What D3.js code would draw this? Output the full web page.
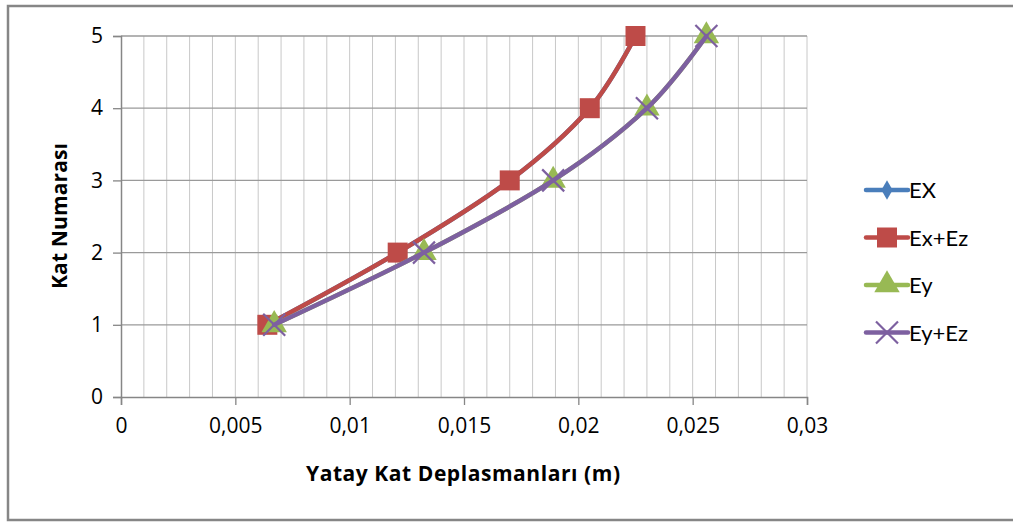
<!DOCTYPE html>
<html>
<head>
<meta charset="utf-8">
<script src="https://cdn.jsdelivr.net/npm/d3@7"></script>
<style>
  body { margin: 0; background: #fff; }
  text { font-family: "Open Sans", sans-serif; }
</style>
</head>
<body>
<script>
const width = 1013;
const height = 523;

// floors and displacements
const floors = [1, 2, 3, 4, 5];
const exValues = [0.0064, 0.0121, 0.0170, 0.0205, 0.0225];
const exEzValues = [0.0064, 0.0121, 0.0170, 0.0205, 0.0225];
const eyValues = [0.0067, 0.01325, 0.0189, 0.0230, 0.0256];
const eyEzValues = [0.0067, 0.01325, 0.0189, 0.0230, 0.0256];
const xTicks = [0, 0.005, 0.01, 0.015, 0.02, 0.025, 0.03];
const yTicks = [0, 1, 2, 3, 4, 5];

const series = [
    {name: "EX", values: exValues, color: "#4A7EBB", symbol: d3.symbolDiamond, size: 110},
    {name: "Ex+Ez", values: exEzValues, color: "#BE4B48", symbol: d3.symbolSquare, size: 400},
    {name: "Ey", values: eyValues, color: "#98B954", symbol: d3.symbolTriangle, size: 280},
    {name: "Ey+Ez", values: eyEzValues, color: "#7D60A0", symbol: "cross", size: 11}
];

const plot = {left: 121, right: 807, top: 36, bottom: 397};

const x = d3.scaleLinear().domain([0, 0.03]).range([plot.left, plot.right]);
const y = d3.scaleLinear().domain([0, 5]).range([plot.bottom, plot.top]);

const svg = d3.select('body').append('svg')
    .attr('width', width)
    .attr('height', height);

// outer frame
svg.append('rect')
    .attr('x', 8).attr('y', 6)
    .attr('width', 1010).attr('height', 514)
    .attr('fill', 'white')
    .attr('stroke', '#868686')
    .attr('stroke-width', 2.5);

// vertical minor grid every 0.001
const minor = d3.range(1, 31).map(i => i / 1000);
svg.append('g').selectAll('line')
    .data(minor)
    .enter().append('line')
    .attr('x1', d => x(d)).attr('x2', d => x(d))
    .attr('y1', plot.top).attr('y2', plot.bottom)
    .attr('stroke', '#c8c8c8')
    .attr('stroke-width', 1);

// horizontal grid
svg.append('g').selectAll('line')
    .data(yTicks.slice(1))
    .enter().append('line')
    .attr('x1', plot.left).attr('x2', plot.right)
    .attr('y1', d => y(d)).attr('y2', d => y(d))
    .attr('stroke', '#9a9a9a')
    .attr('stroke-width', 1.3);

// axes
const fmt = d => String(d).replace('.', ',');
const xAxis = svg.append('g')
    .attr('transform', `translate(0,${plot.bottom})`)
    .call(d3.axisBottom(x).tickValues(xTicks).tickSize(8).tickPadding(13).tickFormat(fmt));
const yAxis = svg.append('g')
    .attr('transform', `translate(${plot.left},0)`)
    .call(d3.axisLeft(y).tickValues(yTicks).tickSize(8).tickPadding(10).tickFormat(d3.format('d')));

[xAxis, yAxis].forEach(a => {
    a.select('.domain').attr('stroke', '#868686').attr('stroke-width', 1.5);
    a.selectAll('.tick line').attr('stroke', '#868686').attr('stroke-width', 1.3);
    a.selectAll('.tick text')
        .attr('fill', '#000')
        .attr('font-family', 'Lato, sans-serif')
        .attr('font-size', 21);
});

// series lines, smoothed like Excel
const line = d3.line()
    .x(d => x(d[0]))
    .y(d => y(d[1]))
    .curve(d3.curveCardinal.tension(0));

function drawMarker(g, s, cx, cy) {
    if (s.symbol === "cross") {
        const r = s.size;
        g.append('path')
            .attr('d', `M${cx - r},${cy - r}L${cx + r},${cy + r}M${cx - r},${cy + r}L${cx + r},${cy - r}`)
            .attr('stroke', s.color)
            .attr('stroke-width', 2.2)
            .attr('fill', 'none');
    } else {
        g.append('path')
            .attr('d', d3.symbol().type(s.symbol).size(s.size)())
            .attr('transform', `translate(${cx},${cy})`)
            .attr('fill', s.color);
    }
}

series.forEach(s => {
    const pts = s.values.map((v, i) => [v, floors[i]]);
    const g = svg.append('g');
    g.append('path')
        .datum(pts)
        .attr('fill', 'none')
        .attr('stroke', s.color)
        .attr('stroke-width', 4.5)
        .attr('stroke-linejoin', 'round')
        .attr('stroke-linecap', 'round')
        .attr('d', line);
    pts.forEach(p => drawMarker(g, s, x(p[0]), y(p[1])));
});

// legend
const legend = svg.append('g');
series.forEach((s, i) => {
    const ly = 190 + i * 47.5;
    const g = legend.append('g');
    g.append('line')
        .attr('x1', 866).attr('x2', 908)
        .attr('y1', ly).attr('y2', ly)
        .attr('stroke', s.color)
        .attr('stroke-width', 4.5)
        .attr('stroke-linecap', 'round');
    drawMarker(g, s, 887, ly);
    g.append('text')
        .attr('x', 909).attr('y', ly + 8)
        .style('font-family', 'Lato, sans-serif')
        .style('font-size', '22px')
        .text(s.name);
});

// axis titles
svg.append('text')
    .attr('x', 463).attr('y', 481)
    .attr('text-anchor', 'middle')
    .attr('textLength', 314)
    .style('font-weight', 'bold')
    .style('font-size', '21px')
    .text('Yatay Kat Deplasmanları (m)');

svg.append('text')
    .attr('transform', 'translate(67,216) rotate(-90)')
    .attr('text-anchor', 'middle')
    .attr('textLength', 146)
    .style('font-weight', 'bold')
    .style('font-size', '21px')
    .text('Kat Numarası');
</script>
</body>
</html>
